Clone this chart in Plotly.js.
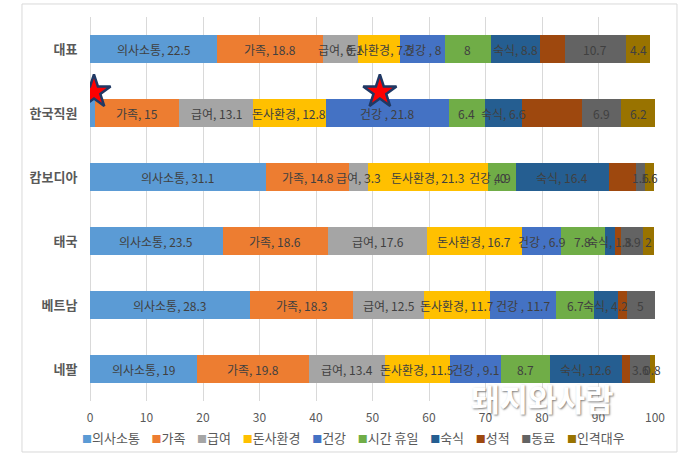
<!DOCTYPE html>
<html><head><meta charset="utf-8">
<script src="https://cdn.plot.ly/plotly-3.0.1.min.js"></script>
<style>html,body{margin:0;padding:0;background:#fff}#chart{width:680px;height:457px}</style>
</head><body><div id="chart"></div>
<script>
// Categories (top to bottom)
const categories = ['대표', '한국직원', '캄보디아', '태국', '베트남', '네팔'];
// Series names
const seriesNames = ['의사소통', '가족', '급여', '돈사환경', '건강', '시간 휴일', '숙식', '성적', '동료', '인격대우'];
// Series values (per category, same order as categories)
const communication = [22.5, 0.8, 31.1, 23.5, 28.3, 19];
const family        = [18.8, 15, 14.8, 18.6, 18.3, 19.8];
const salary        = [6.1, 13.1, 3.3, 17.6, 12.5, 13.4];
const farmEnv       = [7.5, 12.8, 21.3, 16.7, 11.7, 11.5];
const health        = [8, 21.8, 0, 6.9, 11.7, 9.1];
const timeOff       = [8, 6.4, 4.9, 7.8, 6.7, 8.7];
const lodging       = [8.8, 6.6, 16.4, 1.8, 4.2, 12.6];
const performance   = [4.4, 10.5, 4.9, 1.1, 1.6, 1.5];
const coworkers     = [10.7, 6.9, 1.6, 3.9, 5, 3.6];
const respect       = [4.4, 6.2, 1.6, 2, 0, 0.8];
const seriesValues = [communication, family, salary, farmEnv, health, timeOff, lodging, performance, coworkers, respect];
// Data label prefixes (null = no label)
const labelPrefix = ['의사소통, ', '가족, ', '급여, ', '돈사환경, ', '건강 , ', '', '숙식, ', null, '', ''];
// Labels not shown in the original [category, series]
const hiddenLabels = [['한국직원', '의사소통'], ['베트남', '인격대우']];
// Star markers (on 한국직원 row)
const starRow = '한국직원';
const starX = [0.7, 51.3];
// X ticks
const xTicks = [0, 10, 20, 30, 40, 50, 60, 70, 80, 90, 100];

const colors = ['#5B9BD5', '#ED7D31', '#A5A5A5', '#FFC000', '#4472C4', '#70AD47', '#255E91', '#9E480E', '#636363', '#997300'];
const FONT = '"Noto Sans CJK KR", "Noto Sans", sans-serif';

const traces = seriesNames.map((name, i) => ({
  type: 'bar', orientation: 'h', name: name,
  y: categories, x: seriesValues[i],
  marker: {color: colors[i], line: {width: 0}},
  showlegend: false, hoverinfo: 'x+name'
}));

// star trace on overlay linear axis
const rowIdx = categories.indexOf(starRow);
traces.push({
  type: 'scatter', mode: 'markers', x: starX, y: starX.map(() => rowIdx - 0.33),
  yaxis: 'y2', showlegend: false, hoverinfo: 'skip',
  marker: {symbol: 'star', size: 25, color: '#FF0000', line: {color: '#1F3864', width: 2.5}}
});

const annotations = [];
const cum = categories.map(() => 0);
seriesNames.forEach((name, i) => {
  categories.forEach((cat, j) => {
    const v = seriesValues[i][j];
    const hidden = hiddenLabels.some(h => h[0] === cat && h[1] === name);
    if (labelPrefix[i] !== null && !hidden) {
      annotations.push({
        x: cum[j] + v / 2, y: cat, xref: 'x', yref: 'y',
        text: labelPrefix[i] + v, showarrow: false, xanchor: 'center', yanchor: 'middle',
        font: {family: FONT, size: 12, color: '#404040'}
      });
    }
    cum[j] += v;
  });
});

// legend built as a single text line
annotations.push({
  xref: 'paper', yref: 'paper', x: 0.466, y: -0.094, xanchor: 'center', yanchor: 'middle',
  showarrow: false,
  text: seriesNames.map((n, i) => `<span style="color:${colors[i]};font-size:10px">■</span>${n}`).join('&nbsp;&nbsp;&nbsp;&nbsp;'),
  font: {family: FONT, size: 13, color: '#595959'}
});

// watermark
annotations.push({
  xref: 'paper', yref: 'paper', x: 0.80, y: 0.01, xanchor: 'center', yanchor: 'middle',
  showarrow: false, text: '돼지와사람',
  font: {family: FONT, size: 31, color: '#ffffff', weight: 'bold', shadow: '1px 1px 2px rgba(0,0,0,0.5)'}
});

const layout = {
  width: 680, height: 457,
  margin: {l: 90, r: 25, t: 17, b: 56, pad: 0},
  paper_bgcolor: '#ffffff', plot_bgcolor: '#ffffff',
  barmode: 'stack', bargap: 0.56,
  font: {family: FONT, color: '#595959'},
  xaxis: {
    range: [0, 100], tickvals: xTicks, ticktext: xTicks.map(String),
    showgrid: true, gridcolor: '#d9d9d9', gridwidth: 1,
    zeroline: true, zerolinecolor: '#d9d9d9', zerolinewidth: 1,
    showline: false, ticks: 'outside', ticklen: 6, tickcolor: 'rgba(0,0,0,0)',
    tickfont: {family: FONT, size: 12, color: '#595959'}, fixedrange: true
  },
  yaxis: {
    type: 'category', categoryorder: 'array', categoryarray: categories,
    range: [5.5, -0.5], showgrid: false, zeroline: false, showline: false,
    ticks: 'outside', ticklen: 9, tickcolor: 'rgba(0,0,0,0)',
    tickfont: {family: FONT, size: 13, color: '#595959', weight: 'bold'}, fixedrange: true
  },
  yaxis2: {overlaying: 'y', range: [5.5, -0.5], visible: false, fixedrange: true},
  shapes: [{
    type: 'rect', xref: 'paper', yref: 'paper', x0: -0.1204, x1: 1.0389, y0: -0.1328, y1: 1.0339,
    line: {color: '#d9d9d9', width: 1}, layer: 'below'
  }],
  annotations: annotations
};

Plotly.newPlot('chart', traces, layout, {displayModeBar: false, staticPlot: true});
</script></body></html>
